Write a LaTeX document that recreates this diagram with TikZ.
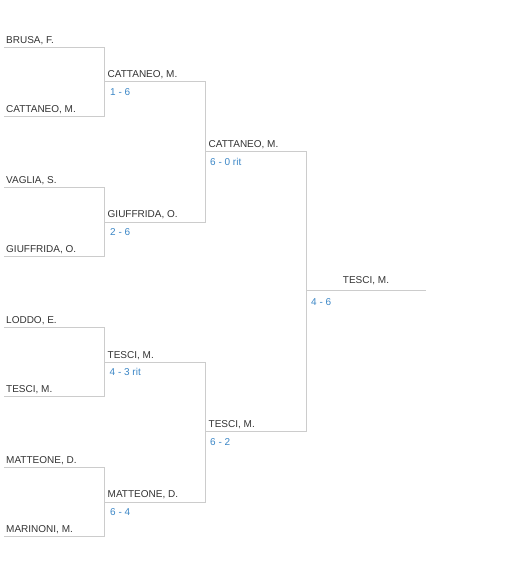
\documentclass[tikz,border=0pt]{standalone}
\usepackage{fontspec}
\setmainfont{Liberation Sans}
\definecolor{namec}{HTML}{333333}
\definecolor{scorec}{HTML}{3B86C6}
\definecolor{linec}{HTML}{CCCCCC}
\begin{document}
\begin{tikzpicture}[x=1pt,y=-1pt,
  pname/.style={anchor=base west, inner sep=0pt, font=\fontsize{10}{12}\selectfont, text=namec},
  pscore/.style={anchor=base west, inner sep=0pt, font=\fontsize{10}{12}\selectfont, text=scorec},
  br/.style={draw=linec, line width=1pt}]
\useasboundingbox (0,0) rectangle (530,572);
% round 1 coordinates
\foreach \k in {0,1,2,3}{
  \pgfmathsetmacro{\t}{47.5+140*\k}
  \pgfmathsetmacro{\b}{116.5+140*\k}
  \pgfmathsetmacro{\m}{82+140*\k}
  \coordinate (a\k L) at (4,\t);
  \coordinate (a\k R) at (104.5,\t);
  \coordinate (b\k L) at (4,\b);
  \coordinate (b\k R) at (104.5,\b);
  \coordinate (m\k L) at (104.5,\m);
  \coordinate (m\k R) at (205.5,\m);
}
\coordinate (s0L) at (205.5,152); \coordinate (s0R) at (306,152);
\coordinate (s1L) at (205.5,431); \coordinate (s1R) at (306,431);
\coordinate (fL) at (306,290.5); \coordinate (fR) at (426,290.5);
% brackets
\foreach \k in {0,1,2,3}{
  \draw[br] (a\k L) -- (a\k R) -- (b\k R) -- (b\k L);
}
\draw[br] (m0L) -- (m0R) -- (m1R) -- (m1L);
\draw[br] (m2L) -- (m2R) -- (m3R) -- (m3L);
\draw[br] (s0L) -- (s0R) -- (s1R) -- (s1L);
\draw[br] (fL) -- (fR);
% round 1 names
\node[pname] (n1) at (6,43.5) {BRUSA, F.};
\node[pname] (n2) at (6,112.5) {CATTANEO, M.};
\node[pname] (n3) at (6,183.5) {VAGLIA, S.};
\node[pname] (n4) at (6,252.5) {GIUFFRIDA, O.};
\node[pname] (n5) at (6,323.5) {LODDO, E.};
\node[pname] (n6) at (6,392.5) {TESCI, M.};
\node[pname] (n7) at (6,463.5) {MATTEONE, D.};
\node[pname] (n8) at (6,532.5) {MARINONI, M.};
% round 2
\node[pname] (q1) at (107.5,78) {CATTANEO, M.};
\node[pscore] (qs1) at (110,95.5) {1 - 6};
\node[pname] (q2) at (107.5,217) {GIUFFRIDA, O.};
\node[pscore] (qs2) at (110,235.5) {2 - 6};
\node[pname] (q3) at (107.5,358) {TESCI, M.};
\node[pscore] (qs3) at (109.5,375.5) {4 - 3 rit};
\node[pname] (q4) at (107.5,497) {MATTEONE, D.};
\node[pscore] (qs4) at (110,515.5) {6 - 4};
% round 3
\node[pname] (r1) at (208.5,148) {CATTANEO, M.};
\node[pscore] (rs1) at (210,165.5) {6 - 0 rit};
\node[pname] (r2) at (208.5,427) {TESCI, M.};
\node[pscore] (rs2) at (210,445.5) {6 - 2};
% final
\node[pname, anchor=base] (w) at (366,283) {TESCI, M.};
\node[pscore] (ws) at (311,305.5) {4 - 6};
\end{tikzpicture}
\end{document}
